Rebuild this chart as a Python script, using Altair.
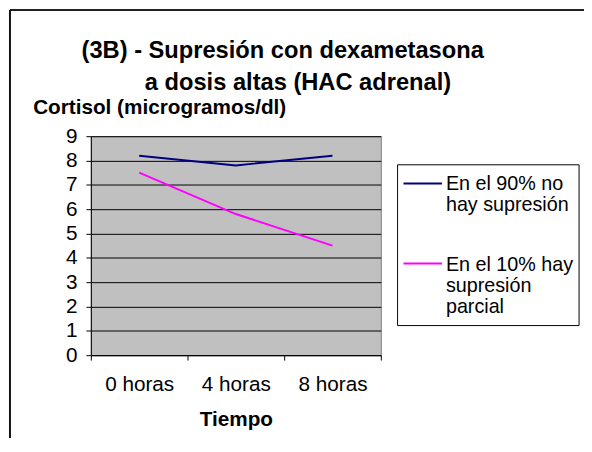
import altair as alt
import pandas as pd

# ---- data ----
categories = ["0 horas", "4 horas", "8 horas"]
series_names = ["En el 90% no hay supresión", "En el 10% hay supresión parcial"]
values_90 = [8.2, 7.8, 8.2]
values_10 = [7.5, 5.8, 4.5]
series_colors = ["#000080", "#FF00FF"]
legend_labels = ["En el 90% no|hay supresión", "En el 10% hay|supresión|parcial"]
title_lines = ["(3B) - Supresión con dexametasona", "a dosis altas (HAC adrenal)"]
y_title = "Cortisol (microgramos/dl)"
x_title = "Tiempo"
y_ticks = [0, 1, 2, 3, 4, 5, 6, 7, 8, 9]

rows = []
for name, vals in zip(series_names, [values_90, values_10]):
    for c, v in zip(categories, vals):
        rows.append({"tiempo": c, "cortisol": v, "serie": name})
df = pd.DataFrame(rows)

W, H = 294, 222
FONT = "Liberation Sans"
one = alt.Data(values=[{}])

color_scale = alt.Scale(domain=series_names, range=series_colors)

lines = alt.Chart(df).mark_line(strokeWidth=2).encode(
    x=alt.X(
        "tiempo:N",
        sort=categories,
        bandPosition=0.5,
        scale=alt.Scale(type="band", paddingInner=0, paddingOuter=0),
        axis=alt.Axis(
            title=x_title,
            labelAngle=0,
            labelBaseline="alphabetic",
            labelPadding=31,
            tickSize=5,
            tickBand="extent",
            grid=False,
            domainColor="black",
            tickColor="black",
            labelFontSize=21,
            labelFont=FONT,
            labelColor="black",
            titleFont=FONT,
            titleFontSize=21,
            titleFontWeight="bold",
            titleColor="black",
            titleY=71,
            titleBaseline="alphabetic",
        ),
    ),
    y=alt.Y(
        "cortisol:Q",
        scale=alt.Scale(domain=[0, 9], nice=False),
        axis=alt.Axis(
            title=y_title,
            values=y_ticks,
            tickSize=5,
            labelPadding=9,
            labelFontSize=21,
            labelFont=FONT,
            labelColor="black",
            domainColor="black",
            tickColor="black",
            gridColor="black",
            gridWidth=1,
            titleAngle=0,
            titleAlign="left",
            titleBaseline="alphabetic",
            titleX=-59,
            titleY=-23,
            titleFont=FONT,
            titleFontSize=21,
            titleFontWeight="bold",
            titleColor="black",
        ),
    ),
    color=alt.Color("serie:N", scale=color_scale, legend=None),
    detail="serie:N",
)

title1 = alt.Chart(one).mark_text(
    text=title_lines[0], font=FONT, fontSize=24, fontWeight="bold",
    align="center", baseline="alphabetic", color="black",
).encode(x=alt.value(194.5), y=alt.value(-79))

title2 = alt.Chart(one).mark_text(
    text=title_lines[1], font=FONT, fontSize=24, fontWeight="bold",
    align="center", baseline="alphabetic", color="black",
).encode(x=alt.value(210), y=alt.value(-47))

# legend frame
legend_box = alt.Chart(one).mark_rect(fill="white", stroke="black", strokeWidth=1).encode(
    x=alt.value(311), x2=alt.value(495), y=alt.value(29), y2=alt.value(192)
)

sym1 = alt.Chart(one).mark_rule(strokeWidth=2, color=series_colors[0]).encode(
    x=alt.value(317), x2=alt.value(356), y=alt.value(48)
)
sym2 = alt.Chart(one).mark_rule(strokeWidth=2, color=series_colors[1]).encode(
    x=alt.value(317), x2=alt.value(356), y=alt.value(129)
)
lab1 = alt.Chart(one).mark_text(
    text=legend_labels[0], lineBreak="|", lineHeight=21, font=FONT, fontSize=20,
    align="left", baseline="alphabetic", color="black",
).encode(x=alt.value(360), y=alt.value(55))
lab2 = alt.Chart(one).mark_text(
    text=legend_labels[1], lineBreak="|", lineHeight=21, font=FONT, fontSize=20,
    align="left", baseline="alphabetic", color="black",
).encode(x=alt.value(360), y=alt.value(137))

# outer chart frame (top and left edges)
frame_top = alt.Chart(one).mark_rule(strokeWidth=2, color="#222222").encode(
    x=alt.value(-82), x2=alt.value(600), y=alt.value(-128)
)
frame_left = alt.Chart(one).mark_rule(strokeWidth=2, color="#111111").encode(
    x=alt.value(-82), y=alt.value(-128), y2=alt.value(400)
)

chart = alt.layer(
    lines, title1, title2, legend_box, sym1, sym2, lab1, lab2, frame_top, frame_left
).properties(
    width=W,
    height=H,
    autosize=alt.AutoSizeParams(type="none"),
    padding={"left": 84, "top": 127, "right": 206, "bottom": 81},
    background="white",
).configure_view(fill="#C0C0C0", stroke="#808080", strokeWidth=1)

chart.save("out.html", embed_options={"renderer": "svg", "actions": False})
